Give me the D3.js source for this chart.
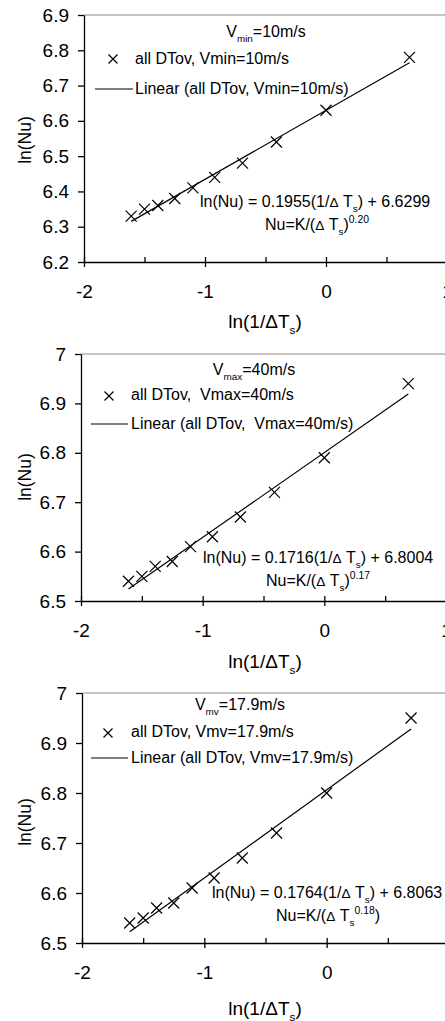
<!DOCTYPE html>
<html>
<head>
<meta charset="utf-8">
<script src="https://cdn.jsdelivr.net/npm/d3@7"></script>
<style>
  body { margin: 0; background: #fff; }
  svg { display: block; font-family: "Liberation Sans", Arial, sans-serif; }
  text { fill: #000; white-space: pre; }
</style>
</head>
<body>
<svg id="chart" width="445" height="1021"></svg>
<script>
// ln(1/dTs) values, shared by all three panels
const lnInvDT = [-1.61, -1.5, -1.39, -1.25, -1.1, -0.92, -0.69, -0.41, 0, 0.69];

// ln(Nu)
const lnNuMin = [6.33, 6.35, 6.36, 6.38, 6.41, 6.44, 6.48, 6.54, 6.63, 6.78];
const lnNuMax = [6.54, 6.55, 6.57, 6.58, 6.61, 6.63, 6.67, 6.72, 6.79, 6.94];
const lnNuMv  = [6.54, 6.55, 6.57, 6.58, 6.61, 6.63, 6.67, 6.72, 6.80, 6.95];

// fitted lines printed on the chart: [slope, intercept]
const fitMin = [0.1955, 6.6299];
const fitMax = [0.1716, 6.8004];
const fitMv  = [0.1764, 6.8063];

const xMajorTicks = [-2, -1, 0, 1];
const xMinorTicks = [-1.5, -0.5, 0.5];
const yTicksMin = [6.2, 6.3, 6.4, 6.5, 6.6, 6.7, 6.8, 6.9];
const yTicksHigh = [6.5, 6.6, 6.7, 6.8, 6.9, 7];

const panels = [
  {
    values: lnNuMin, fit: fitMin, yTicks: yTicksMin, yDomain: [6.2, 6.9],
    box: {left: 84, right: 447, top: 15, bottom: 262},
    head: [["V"], ["min", "sub"], ["=10m/s"]], headAt: [266, 37],
    legendPts: "all DTov, Vmin=10m/s", legendLine: "Linear (all DTov, Vmin=10m/s)",
    legAt: [113, 59, 135, 64, 89, 94], legLine: [95, 133],
    eq: "0.1955", icpt: "6.6299", eqAt: [200, 207],
    nu: [["Nu=K/("], ["Δ", "d"], [" T"], ["s", "sub"], [")"], ["0.20", "sup"]], nuAt: [317, 230],
    yTitleY: 140, xTitleY: 328
  },
  {
    values: lnNuMax, fit: fitMax, yTicks: yTicksHigh, yDomain: [6.5, 7],
    box: {left: 81, right: 446, top: 354, bottom: 601},
    head: [["V"], ["max", "sub"], ["=40m/s"]], headAt: [254, 375],
    legendPts: "all DTov,  Vmax=40m/s", legendLine: "Linear (all DTov,  Vmax=40m/s)",
    legAt: [109, 396, 131, 400, 424, 429], legLine: [91, 128],
    eq: "0.1716", icpt: "6.8004", eqAt: [203, 563],
    nu: [["Nu=K/("], ["Δ", "d"], [" T"], ["s", "sub"], [")"], ["0.17", "sup"]], nuAt: [318, 586],
    yTitleY: 477, xTitleY: 668
  },
  {
    values: lnNuMv, fit: fitMv, yTicks: yTicksHigh, yDomain: [6.5, 7],
    box: {left: 82, right: 449, top: 693, bottom: 943},
    head: [["V"], ["mv", "sub"], ["=17.9m/s"]], headAt: [240, 710],
    legendPts: "all DTov, Vmv=17.9m/s", legendLine: "Linear (all DTov, Vmv=17.9m/s)",
    legAt: [108, 733, 131, 737, 758, 763], legLine: [91, 128],
    eq: "0.1764", icpt: "6.8063", eqAt: [212, 898],
    nu: [["Nu=K/("], ["Δ", "d"], [" T"], ["s", "sub"], ["0.18", "sup"], [")"]], nuAt: [328, 921],
    yTitleY: 822, xTitleY: 1015
  }
];

const svg = d3.select('#chart');

// text with sub/superscripts built from segments
function richText(parent, x, y, anchor, size, segs) {
  const t = parent.append('text')
    .attr('x', x)
    .attr('y', y)
    .attr('text-anchor', anchor)
    .style('font-size', size + 'px');
  let shift = 0;
  segs.forEach(([s, kind]) => {
    let target = 0, fs = size;
    if (kind === 'sub') { target = size * 0.3; fs = size * 0.62; }
    if (kind === 'sup') { target = -size * 0.42; fs = size * 0.65; }
    if (kind === 'd') { fs = size * 0.85; }
    t.append('tspan')
      .attr('dy', target - shift)
      .style('font-size', fs + 'px')
      .text(s);
    shift = target;
  });
  return t;
}

function crossPath(cx, cy, r) {
  return `M${cx - r},${cy - r}L${cx + r},${cy + r}M${cx - r},${cy + r}L${cx + r},${cy - r}`;
}

panels.forEach(p => {
  const b = p.box;
  const g = svg.append('g');

  const x = d3.scaleLinear().domain([-2, 1]).range([b.left, b.right]);
  const y = d3.scaleLinear().domain(p.yDomain).range([b.bottom, b.top]);

  // top border in grey
  g.append('line')
    .attr('x1', b.left).attr('x2', 445)
    .attr('y1', b.top).attr('y2', b.top)
    .attr('stroke', '#8c8c8c')
    .attr('stroke-width', 1.2);

  // y axis
  const yAxis = g.append('g')
    .attr('transform', `translate(${b.left},0)`)
    .call(d3.axisLeft(y)
      .tickValues(p.yTicks)
      .tickFormat(d => String(d))
      .tickSize(6)
      .tickSizeOuter(0)
      .tickPadding(9));

  // x axis: major ticks cross the line, minor ones sit inside
  const xAxis = g.append('g')
    .attr('transform', `translate(0,${b.bottom})`)
    .call(d3.axisBottom(x)
      .tickValues(xMajorTicks)
      .tickFormat(d => String(d))
      .tickSize(5)
      .tickSizeOuter(0)
      .tickPadding(18));
  xAxis.selectAll('.tick').filter(d => d === 1).select('line').remove();

  const xInner = g.append('g')
    .attr('transform', `translate(0,${b.bottom})`)
    .call(d3.axisBottom(x)
      .tickValues(xMajorTicks.concat(xMinorTicks).filter(d => d < 1))
      .tickFormat('')
      .tickSize(-5)
      .tickSizeOuter(0));
  xInner.select('.domain').remove();

  [yAxis, xAxis, xInner].forEach(ax => {
    ax.selectAll('path, line').attr('stroke', '#000').attr('stroke-width', 1.3);
    ax.selectAll('text')
      .style('font-size', '19px')
      .style('font-family', '"Liberation Sans", Arial, sans-serif')
      .attr('fill', '#000');
  });

  // trend line over the data range
  const xExt = d3.extent(lnInvDT);
  g.append('path')
    .datum(xExt)
    .attr('fill', 'none')
    .attr('stroke', '#000')
    .attr('stroke-width', 1.2)
    .attr('d', d3.line()
      .x(d => x(d))
      .y(d => y(p.fit[0] * d + p.fit[1])));

  // data markers
  g.selectAll('.pt')
    .data(lnInvDT.map((d, i) => [d, p.values[i]]))
    .join('path')
    .classed('pt', true)
    .attr('d', d => crossPath(x(d[0]), y(d[1]), 5.5))
    .attr('stroke', '#000')
    .attr('stroke-width', 1.2)
    .attr('fill', 'none');

  // heading, legend, equation
  richText(g, p.headAt[0], p.headAt[1], 'middle', 16, p.head);

  const la = p.legAt;
  g.append('path')
    .attr('d', crossPath(la[0], la[1], 4.5))
    .attr('stroke', '#000')
    .attr('stroke-width', 1.2);
  g.append('text')
    .attr('x', la[2]).attr('y', la[3])
    .style('font-size', '16px')
    .text(p.legendPts);
  g.append('line')
    .attr('x1', p.legLine[0]).attr('x2', p.legLine[1])
    .attr('y1', la[4]).attr('y2', la[4])
    .attr('stroke', '#000')
    .attr('stroke-width', 1.2);
  g.append('text')
    .attr('x', la[2]).attr('y', la[5])
    .style('font-size', '16px')
    .text(p.legendLine);

  richText(g, p.eqAt[0], p.eqAt[1], 'start', 16,
    [[`ln(Nu) = ${p.eq}(1/`], ['Δ', 'd'], [' T'], ['s', 'sub'], [`) + ${p.icpt}`]]);
  richText(g, p.nuAt[0], p.nuAt[1], 'middle', 16, p.nu);

  // axis titles
  g.append('text')
    .attr('transform', `translate(25,${p.yTitleY}) rotate(-90)`)
    .attr('text-anchor', 'middle')
    .attr('dy', '0.35em')
    .style('font-size', '17.5px')
    .text('ln(Nu)');

  richText(g, 265, p.xTitleY, 'middle', 19,
    [['ln(1/'], ['Δ'], ['T'], ['s', 'sub'], [')']]);
});
</script>
</body>
</html>
